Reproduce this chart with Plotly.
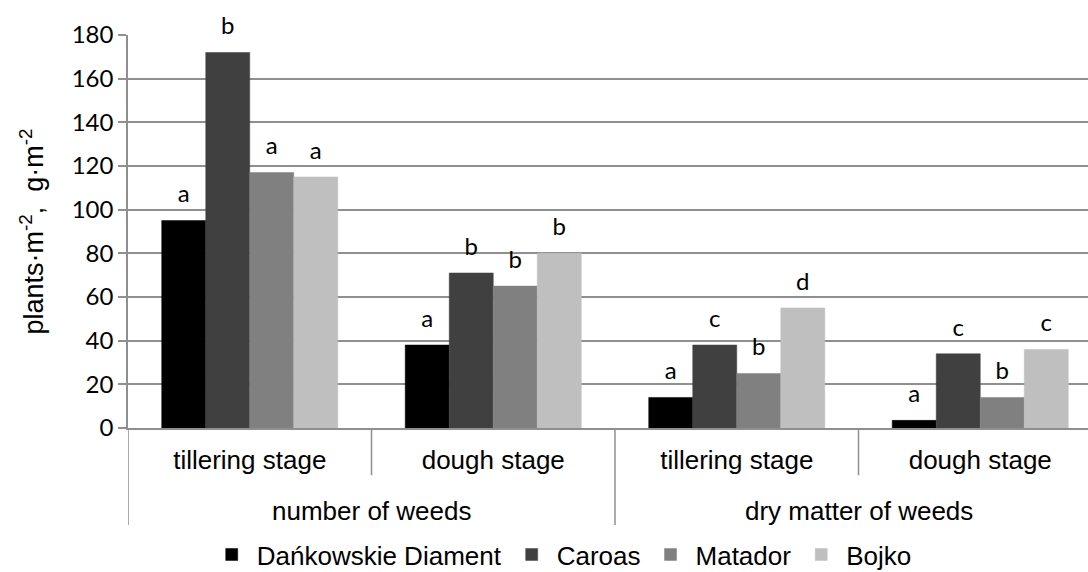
import plotly.graph_objects as go

# categories
outer = ["number of weeds", "dry matter of weeds"]
inner = ["tillering stage", "dough stage", "tillering stage", "dough stage"]
pos = list(range(len(inner)))

cultivars = ["Dańkowskie Diament", "Caroas", "Matador", "Bojko"]
colors = ["#000000", "#404040", "#808080", "#bfbfbf"]

values = {
    "Dańkowskie Diament": [95, 38, 14, 3.5],
    "Caroas": [172, 71, 38, 34],
    "Matador": [117, 65, 25, 14],
    "Bojko": [115, 80, 55, 36],
}
letters = {
    "Dańkowskie Diament": ["a", "a", "a", "a"],
    "Caroas": ["b", "b", "c", "c"],
    "Matador": ["a", "b", "b", "b"],
    "Bojko": ["a", "b", "d", "c"],
}

GRID = "#8f8f8f"
GAP = 0.277

fig = go.Figure()
for name, col in zip(cultivars, colors):
    fig.add_trace(go.Bar(
        x=pos, y=values[name], name=name, offsetgroup=name,
        marker=dict(color=col, line=dict(color=col, width=0.5)),
    ))
# significance letters, grouped like the bars
for name in cultivars:
    fig.add_trace(go.Scatter(
        x=pos, y=values[name], mode="markers+text", text=letters[name],
        textposition="top center", cliponaxis=False, showlegend=False,
        offsetgroup=name, hoverinfo="skip",
        marker=dict(size=18, opacity=0),
        textfont=dict(family="Lato", size=24, color="#000000"),
    ))

# dividers under the x axis
for xv, depth in [(-0.5, -0.247), (0.5, -0.12), (1.5, -0.247), (2.5, -0.12)]:
    fig.add_shape(type="line", xref="x", yref="paper", x0=xv, x1=xv, y0=0, y1=depth,
                  line=dict(color=GRID, width=1.5))
# outer category labels
for i, lab in enumerate(outer):
    fig.add_annotation(x=2 * i + 0.5, xref="x", y=-0.21, yref="paper", yanchor="middle",
                       text=lab, showarrow=False,
                       font=dict(family="Liberation Sans", size=26, color="#000000"))

fig.update_layout(
    width=1088, height=572,
    margin=dict(l=128, r=0, t=35, b=144, autoexpand=False),
    plot_bgcolor="white", paper_bgcolor="white",
    barmode="group", bargap=GAP, bargroupgap=0,
    scattermode="group", scattergap=GAP,
    font=dict(family="Liberation Sans", color="#000000"),
    legend=dict(orientation="h", x=0.082, xanchor="left", y=-0.322, yanchor="middle",
                itemwidth=40,
                font=dict(family="Liberation Sans", size=26), traceorder="normal"),
)
fig.update_xaxes(
    range=[-0.5, -0.5 + 4 * 960 / 974], tickvals=pos, ticktext=inner,
    showline=True, linecolor=GRID, linewidth=1.5, showgrid=False, zeroline=False,
    tickfont=dict(family="Liberation Sans", size=26), ticks="", ticklabelstandoff=8,
    automargin=False,
)
fig.update_yaxes(
    range=[0, 180], dtick=20, showgrid=True, gridcolor=GRID, gridwidth=1.5,
    showline=True, linecolor=GRID, linewidth=1.5,
    ticks="outside", ticklen=8, tickcolor=GRID, tickwidth=1.5,
    tickfont=dict(family="Lato", size=24),
    zeroline=False, automargin=False,
    title=dict(text="plants·m<sup>-2</sup>,  g·m<sup>-2</sup>",
               font=dict(family="Liberation Sans", size=27), standoff=20),
)

fig.write_html("out.html", config={"displayModeBar": False},
               post_script="document.body.style.margin='0';")
